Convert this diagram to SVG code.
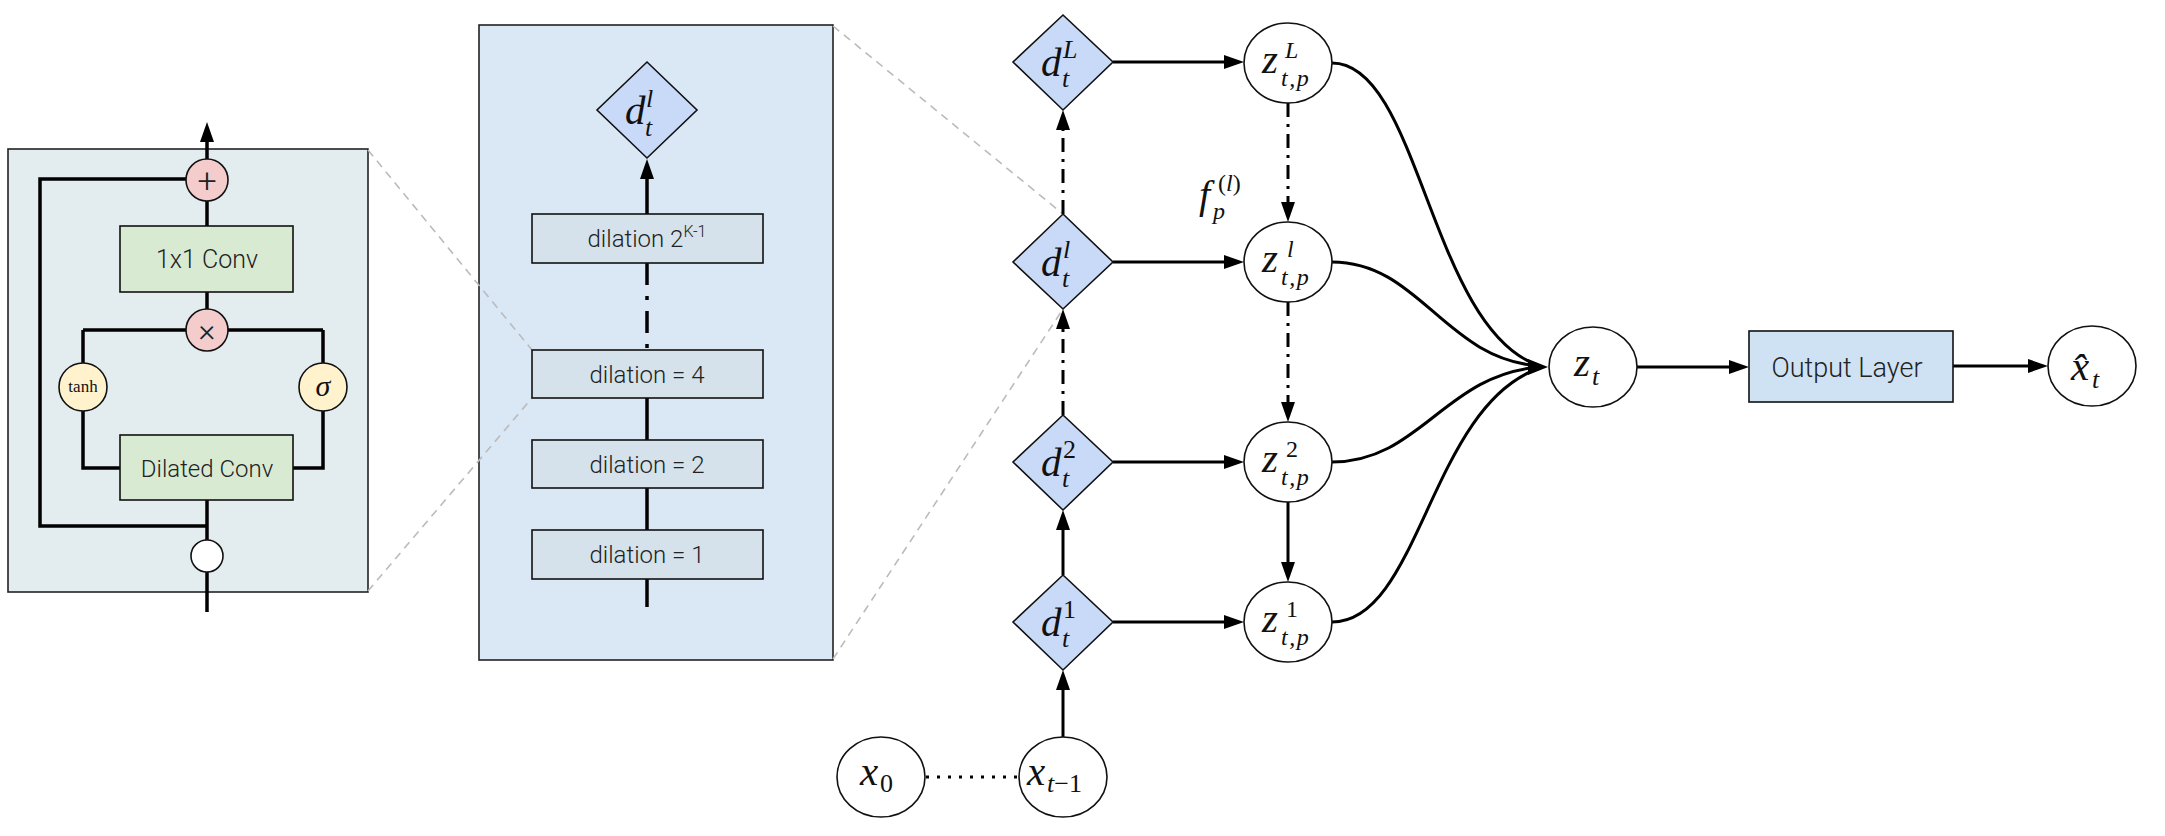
<svg xmlns="http://www.w3.org/2000/svg" width="2165" height="836" viewBox="0 0 2165 836">
<style>
.bg{fill:#ffffff}
.panel{stroke:#222;stroke-width:1.6}
.ln{stroke:#000;stroke-width:3.5;fill:none}
.ar{stroke:#000;stroke-width:3;fill:none}
.dd{stroke-dasharray:14 7 3 7}
.dot{stroke-dasharray:3 8}
.zoomln{stroke:#bbbbbb;stroke-width:1.6;stroke-dasharray:8 6;fill:none}
.node{stroke:#111;stroke-width:1.6}
.dia{fill:#c9daf8;stroke:#111;stroke-width:1.6}
.ell{fill:#fff;stroke:#111;stroke-width:1.6}
.sans{font-family:Roboto,"Liberation Sans",sans-serif;font-weight:300;fill:#222}
.m{font-family:"Liberation Serif","DejaVu Serif",serif;font-style:italic;fill:#111;font-size:41px}
.r{font-style:normal}
.sc{font-size:26px}
.zs{font-size:24px}
</style>
<defs>
<marker id="ah" markerUnits="userSpaceOnUse" markerWidth="22" markerHeight="16" refX="10" refY="7" orient="auto">
<path d="M0,0 L20,7 L0,14 z" fill="#000"/>
</marker>
</defs>
<rect class="bg" x="0" y="0" width="2165" height="836"/>

<!-- panels -->
<g id="residual-block">
<rect class="panel" x="8" y="149" width="360" height="443" fill="#e3ecee"/>
</g>
<g id="dilation-stack">
<rect class="panel" x="479" y="25" width="354" height="635" fill="#dae7f5"/>
</g>

<!-- zoom guide lines -->
<g id="zoom-lines">
<line class="zoomln" x1="368" y1="150" x2="532" y2="350"/>
<line class="zoomln" x1="368" y1="591" x2="532" y2="398"/>
<line class="zoomln" x1="833" y1="26" x2="1063" y2="214"/>
<line class="zoomln" x1="833" y1="659" x2="1063" y2="309"/>
</g>

<!-- connectors -->
<g id="connectors">
<line class="ln" x1="207" y1="159" x2="207" y2="132" marker-end="url(#ah)"/>
<line class="ln" x1="207" y1="201" x2="207" y2="226"/>
<line class="ln" x1="207" y1="292" x2="207" y2="309"/>
<line class="ln" x1="83" y1="330" x2="323" y2="330"/>
<polyline class="ln" points="83,330 83,363"/>
<polyline class="ln" points="323,330 323,363"/>
<polyline class="ln" points="83,411 83,468 120,468"/>
<polyline class="ln" points="323,411 323,468 293,468"/>
<line class="ln" x1="207" y1="500" x2="207" y2="540"/>
<line class="ln" x1="207" y1="572" x2="207" y2="612"/>
<polyline class="ln" points="207,526 40,526 40,179 186,179"/>
<line class="ln" x1="647" y1="214" x2="647" y2="169" marker-end="url(#ah)"/>
<line class="ln" x1="647" y1="263" x2="647" y2="350" style="stroke-dasharray:22 11 4 11"/>
<line class="ln" x1="647" y1="398" x2="647" y2="440"/>
<line class="ln" x1="647" y1="488" x2="647" y2="530"/>
<line class="ln" x1="647" y1="579" x2="647" y2="607"/>
<line class="ar" x1="1113" y1="62" x2="1234" y2="62" marker-end="url(#ah)"/>
<line class="ar" x1="1113" y1="262" x2="1234" y2="262" marker-end="url(#ah)"/>
<line class="ar" x1="1113" y1="462" x2="1234" y2="462" marker-end="url(#ah)"/>
<line class="ar" x1="1113" y1="622" x2="1234" y2="622" marker-end="url(#ah)"/>
<line class="ar" x1="1063" y1="737" x2="1063" y2="680" marker-end="url(#ah)"/>
<line class="ar" x1="1063" y1="575" x2="1063" y2="520" marker-end="url(#ah)"/>
<line class="ar dd" x1="1063" y1="415" x2="1063" y2="319" marker-end="url(#ah)"/>
<line class="ar dd" x1="1063" y1="214" x2="1063" y2="120" marker-end="url(#ah)"/>
<line class="ar dd" x1="1288" y1="103" x2="1288" y2="212" marker-end="url(#ah)"/>
<line class="ar dd" x1="1288" y1="302" x2="1288" y2="412" marker-end="url(#ah)"/>
<line class="ar" x1="1288" y1="502" x2="1288" y2="572" marker-end="url(#ah)"/>
<line class="ar dot" x1="926" y1="777" x2="1018" y2="777"/>
<path class="ar" d="M1332,63 C1420,63 1430,330 1540,366"/>
<path class="ar" d="M1332,262 C1420,262 1445,360 1540,366"/>
<path class="ar" d="M1332,462 C1420,462 1445,374 1540,367"/>
<path class="ar" d="M1332,622 C1420,622 1430,405 1540,368"/>
<path d="M1528,359 L1548,367 L1528,375 z" fill="#000"/>
<line class="ar" x1="1637" y1="367" x2="1739" y2="367" marker-end="url(#ah)"/>
<line class="ar" x1="1953" y1="366" x2="2038" y2="366" marker-end="url(#ah)"/>
</g>

<!-- residual block nodes -->
<g id="plus-node">
<circle class="node" cx="207" cy="180" r="21" fill="#f4cccc" stroke-width="2"/>
<text class="sans" x="207" y="192" font-size="34" text-anchor="middle">+</text>
</g>
<g id="conv1x1">
<rect class="node" x="120" y="226" width="173" height="66" fill="#d9ead3" stroke-width="2"/>
<text class="sans" x="207" y="268" font-size="25" text-anchor="middle">1x1 Conv</text>
</g>
<g id="times-node">
<circle class="node" cx="207" cy="330" r="21" fill="#f4cccc" stroke-width="2"/>
<text class="sans" x="207" y="341" font-size="32" text-anchor="middle">×</text>
</g>
<g id="tanh-node">
<circle class="node" cx="83" cy="387" r="24" fill="#fff2cc" stroke-width="2"/>
<text x="83" y="392" font-family="'Liberation Serif',serif" font-size="17" text-anchor="middle" fill="#111">tanh</text>
</g>
<g id="sigma-node">
<circle class="node" cx="323" cy="387" r="24" fill="#fff2cc" stroke-width="2"/>
<text class="m" x="323" y="396" style="font-size:30px" text-anchor="middle">σ</text>
</g>
<g id="dilated-conv">
<rect class="node" x="120" y="435" width="173" height="65" fill="#d9ead3" stroke-width="2"/>
<text class="sans" x="207" y="477" font-size="24" text-anchor="middle">Dilated Conv</text>
</g>
<g id="input-node">
<circle class="node" cx="207" cy="556" r="16" fill="#fff" stroke-width="2"/>
</g>

<!-- dilation stack nodes -->
<g id="stack-d">
<polygon class="dia" points="647,62 697,110 647,158 597,110"/>
<text class="m" x="625" y="124">d<tspan class="sc" x="646" y="107">l</tspan><tspan class="sc" x="645" y="136">t</tspan></text>
</g>
<g id="dil-k">
<rect class="node" x="532" y="214" width="231" height="49" fill="#d5e2ec" stroke-width="2"/>
<text class="sans" x="647" y="247" font-size="24" text-anchor="middle">dilation 2<tspan font-size="16" dy="-10">K-1</tspan></text>
</g>
<g id="dil-4">
<rect class="node" x="532" y="350" width="231" height="48" fill="#d5e2ec" stroke-width="2"/>
<text class="sans" x="647" y="383" font-size="24" text-anchor="middle">dilation = 4</text>
</g>
<g id="dil-2">
<rect class="node" x="532" y="440" width="231" height="48" fill="#d5e2ec" stroke-width="2"/>
<text class="sans" x="647" y="473" font-size="24" text-anchor="middle">dilation = 2</text>
</g>
<g id="dil-1">
<rect class="node" x="532" y="530" width="231" height="49" fill="#d5e2ec" stroke-width="2"/>
<text class="sans" x="647" y="563" font-size="24" text-anchor="middle">dilation = 1</text>
</g>

<!-- right graph nodes -->
<g id="dL">
<polygon class="dia" points="1063,15 1113,62 1063,110 1013,62"/>
<text class="m" x="1041" y="76">d<tspan class="sc" x="1063" y="58">L</tspan><tspan class="sc" x="1062" y="87">t</tspan></text>
</g>
<g id="dl">
<polygon class="dia" points="1063,214 1113,262 1063,309 1013,262"/>
<text class="m" x="1041" y="276">d<tspan class="sc" x="1063" y="258">l</tspan><tspan class="sc" x="1062" y="287">t</tspan></text>
</g>
<g id="d2">
<polygon class="dia" points="1063,415 1113,462 1063,510 1013,462"/>
<text class="m" x="1041" y="476">d<tspan class="sc r" x="1063" y="458">2</tspan><tspan class="sc" x="1062" y="487">t</tspan></text>
</g>
<g id="d1">
<polygon class="dia" points="1063,575 1113,622 1063,670 1013,622"/>
<text class="m" x="1041" y="636">d<tspan class="sc r" x="1063" y="618">1</tspan><tspan class="sc" x="1062" y="647">t</tspan></text>
</g>
<g id="zL">
<ellipse class="ell" cx="1288" cy="63" rx="44" ry="40"/>
<text class="m" x="1262" y="73">z<tspan class="zs" x="1285" y="58">L</tspan><tspan class="zs" x="1281" y="86" letter-spacing="1.5">t,p</tspan></text>
</g>
<g id="zl">
<ellipse class="ell" cx="1288" cy="262" rx="44" ry="40"/>
<text class="m" x="1262" y="272">z<tspan class="zs" x="1287" y="257">l</tspan><tspan class="zs" x="1281" y="285" letter-spacing="1.5">t,p</tspan></text>
</g>
<g id="z2">
<ellipse class="ell" cx="1288" cy="462" rx="44" ry="40"/>
<text class="m" x="1262" y="472">z<tspan class="zs r" x="1286" y="457">2</tspan><tspan class="zs" x="1281" y="485" letter-spacing="1.5">t,p</tspan></text>
</g>
<g id="z1">
<ellipse class="ell" cx="1288" cy="622" rx="44" ry="40"/>
<text class="m" x="1262" y="632">z<tspan class="zs r" x="1286" y="617">1</tspan><tspan class="zs" x="1281" y="645" letter-spacing="1.5">t,p</tspan></text>
</g>
<g id="f-label">
<text class="m" x="1199" y="208" style="font-size:40px">f<tspan class="zs" x="1218" y="191"><tspan class="r">(</tspan>l<tspan class="r">)</tspan></tspan><tspan class="zs" x="1213" y="219">p</tspan></text>
</g>
<g id="x0">
<ellipse class="ell" cx="881" cy="777" rx="44" ry="40"/>
<text class="m" x="860" y="785">x<tspan class="sc r" x="880" y="792">0</tspan></text>
</g>
<g id="xt1">
<ellipse class="ell" cx="1063" cy="777" rx="44" ry="40"/>
<text class="m" x="1027" y="785">x<tspan class="sc" x="1047" y="792">t<tspan class="r">−1</tspan></tspan></text>
</g>
<g id="zt">
<ellipse class="ell" cx="1593" cy="367" rx="44" ry="40"/>
<text class="m" x="1574" y="376">z<tspan class="sc" x="1592" y="385">t</tspan></text>
</g>
<g id="output-layer">
<rect class="node" x="1749" y="331" width="204" height="71" fill="#cfe2f3" stroke-width="2"/>
<text class="sans" x="1847" y="377" font-size="27" text-anchor="middle">Output Layer</text>
</g>
<g id="xhat">
<ellipse class="ell" cx="2092" cy="366" rx="44" ry="40"/>
<text class="m" x="2071" y="380">x&#x302;<tspan class="sc" x="2092" y="388">t</tspan></text>
</g>
</svg>
